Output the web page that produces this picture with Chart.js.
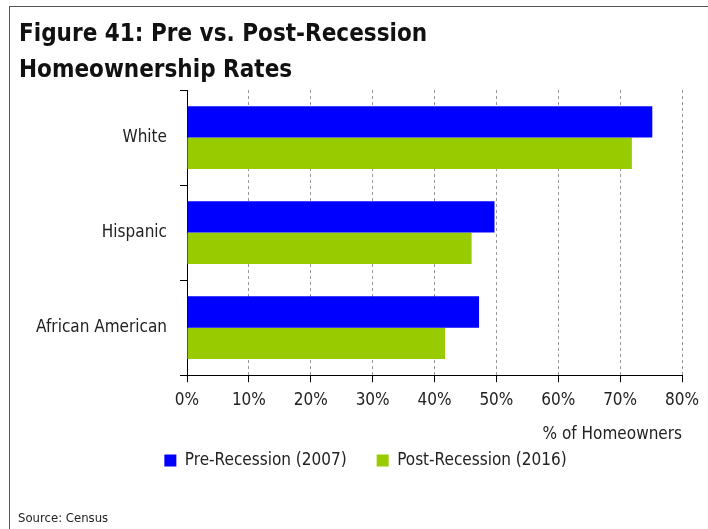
<!DOCTYPE html>
<html>
<head>
<meta charset="utf-8">
<script src="https://cdn.jsdelivr.net/npm/chart.js@4/dist/chart.umd.min.js"></script>
<style>
  body { margin: 0; background: #fff; }
  #frame { position: absolute; left: 9px; top: 6px; width: 699px; height: 523px;
           border-left: 1px solid #555; border-top: 1px solid #555; }
  #chart { position: absolute; left: 0; top: 0; }
  #source { position: absolute; left: 18px; top: 510px; font: 13px 'DejaVu Sans Condensed', sans-serif; color: #222; }
</style>
</head>
<body>
<div id="frame"></div>
<canvas id="chart" width="708" height="529"></canvas>
<div id="source">Source: Census</div>
<script>
const FONT = "'DejaVu Sans Condensed', sans-serif";

const categories = ['White', 'Hispanic', 'African American'];
const pre_recession = [75.2, 49.7, 47.2];
const post_recession = [71.9, 46.0, 41.7];
const series_names = ['Pre-Recession (2007)', 'Post-Recession (2016)'];
const x_ticks = [0, 10, 20, 30, 40, 50, 60, 70, 80];

// legend sits a bit right of centre in the original
const shift_legend = {
    id: 'shift_legend',
    afterLayout(chart) {
        chart.legend.left += 15;
        chart.legend.right += 15;
    }
};

const ctx = document.getElementById('chart').getContext('2d');
new Chart(ctx, {
    type: 'bar',
    data: {
        labels: categories,
        datasets: [
            { label: series_names[0], data: pre_recession, backgroundColor: '#0000ff' },
            { label: series_names[1], data: post_recession, backgroundColor: '#99cc00' }
        ]
    },
    plugins: [shift_legend],
    options: {
        indexAxis: 'y',
        responsive: false,
        animation: false,
        devicePixelRatio: 1,
        categoryPercentage: 0.66,
        barPercentage: 1,
        layout: { padding: { left: 19, right: 26, top: 17, bottom: 50 } },
        plugins: {
            title: {
                display: true,
                text: ['Figure 41: Pre vs. Post-Recession', 'Homeownership Rates'],
                align: 'start',
                color: '#111',
                font: { family: FONT, size: 24, weight: 'bold', lineHeight: 1.5 },
                padding: { top: 0, bottom: 1 }
            },
            legend: {
                position: 'bottom',
                labels: {
                    color: '#222',
                    font: { family: FONT, size: 17 },
                    boxWidth: 12, boxHeight: 12,
                    padding: 30
                }
            },
            tooltip: { enabled: false }
        },
        scales: {
            x: {
                min: 0, max: 80,
                afterBuildTicks: axis => { axis.ticks = x_ticks.map(v => ({ value: v })); },
                ticks: {
                    callback: v => v + '%',
                    color: '#222',
                    font: { family: FONT, size: 17 },
                    padding: 8
                },
                grid: { color: '#999', tickColor: '#000', tickLength: 7 },
                border: { color: '#000', dash: [3, 3] },
                title: {
                    display: true, text: '% of Homeowners', align: 'end',
                    color: '#222', font: { family: FONT, size: 17 },
                    padding: { top: 6, bottom: -23 }
                }
            },
            y: {
                afterFit: axis => { axis.width = 168; },
                ticks: { color: '#222', font: { family: FONT, size: 17 }, padding: 13 },
                grid: { drawOnChartArea: false, color: '#000', tickLength: 7, offset: true },
                border: { color: '#000' }
            }
        }
    }
});
</script>
</body>
</html>
